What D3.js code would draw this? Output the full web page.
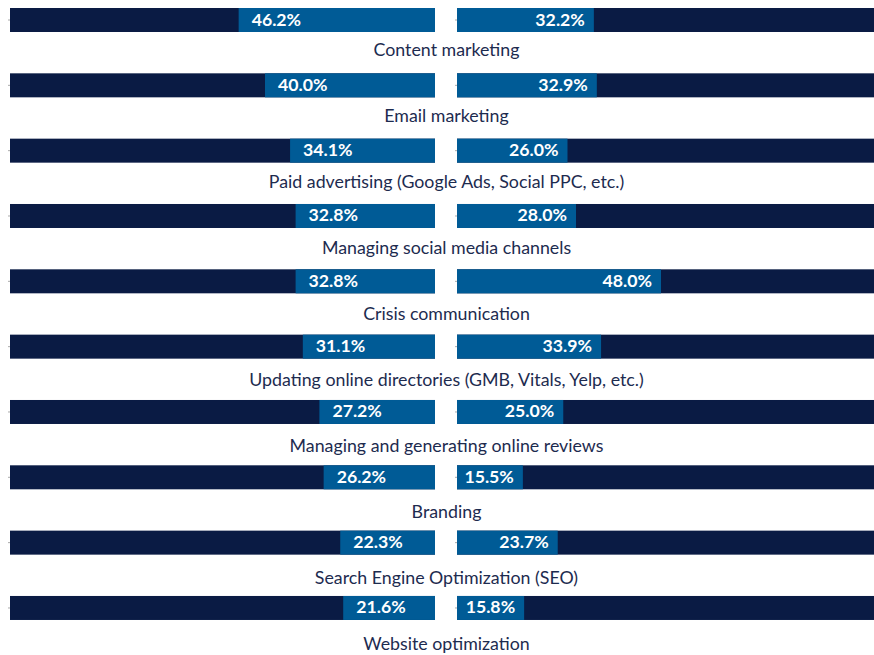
<!DOCTYPE html>
<html>
<head>
<meta charset="utf-8">
<script src="https://cdn.jsdelivr.net/npm/d3@7"></script>
<style>
  body { margin: 0; background: #fff; }
  svg { display: block; font-family: Lato, "Open Sans", sans-serif; }
</style>
</head>
<body>
<div id="chart"></div>
<script>
// categories, top to bottom
var categories = [
    "Content marketing",
    "Email marketing",
    "Paid advertising (Google Ads, Social PPC, etc.)",
    "Managing social media channels",
    "Crisis communication",
    "Updating online directories (GMB, Vitals, Yelp, etc.)",
    "Managing and generating online reviews",
    "Branding",
    "Search Engine Optimization (SEO)",
    "Website optimization"
];
// left and right panel values (percent)
var leftValues = [46.2, 40.0, 34.1, 32.8, 32.8, 31.1, 27.2, 26.2, 22.3, 21.6];
var rightValues = [32.2, 32.9, 26.0, 28.0, 48.0, 33.9, 25.0, 15.5, 23.7, 15.8];

var width = 874, height = 655;
var dark = "#0a1b44", blue = "#005b96", textColor = "#1d2b4f";
var barH = 24;

var svg = d3.select("#chart").append("svg")
    .attr("width", width)
    .attr("height", height);

// one row per category
var y = d3.scaleBand()
    .domain(categories)
    .range([8, 8 + 65.33 * categories.length]);

// left panel grows right to left, right panel left to right
var xL = d3.scaleLinear().domain([0, 100]).range([435, 10]);
var xR = d3.scaleLinear().domain([0, 100]).range([457, 882]);

var rows = categories.map(function (c, i) {
    return { cat: c, left: leftValues[i], right: rightValues[i] };
});

// dark backgrounds (full 100%)
svg.selectAll(".bg-left")
    .data(rows)
    .join("rect")
    .attr("class", "bg-left")
    .attr("x", xL(100))
    .attr("y", d => y(d.cat))
    .attr("width", xL(0) - xL(100))
    .attr("height", barH)
    .attr("fill", dark);

svg.selectAll(".bg-right")
    .data(rows)
    .join("rect")
    .attr("class", "bg-right")
    .attr("x", xR(0))
    .attr("y", d => y(d.cat))
    .attr("width", xR(100) - xR(0))
    .attr("height", barH)
    .attr("fill", dark);

// value bars
svg.selectAll(".bar-left")
    .data(rows)
    .join("rect")
    .attr("class", "bar-left")
    .attr("x", d => xL(d.left))
    .attr("y", d => y(d.cat))
    .attr("width", d => xL(0) - xL(d.left))
    .attr("height", barH)
    .attr("fill", blue);

svg.selectAll(".bar-right")
    .data(rows)
    .join("rect")
    .attr("class", "bar-right")
    .attr("x", xR(0))
    .attr("y", d => y(d.cat))
    .attr("width", d => xR(d.right) - xR(0))
    .attr("height", barH)
    .attr("fill", blue);

// value labels
svg.selectAll(".val-left")
    .data(rows)
    .join("text")
    .attr("class", "val-left")
    .attr("x", d => xL(d.left) + 13)
    .attr("y", d => y(d.cat) + 17.5)
    .attr("fill", "#fff")
    .attr("font-size", 17.7)
    .attr("font-weight", "bold")
    .text(d => d.left.toFixed(1) + "%");

svg.selectAll(".val-right")
    .data(rows)
    .join("text")
    .attr("class", "val-right")
    .attr("x", d => xR(d.right) - 9)
    .attr("y", d => y(d.cat) + 17.5)
    .attr("text-anchor", "end")
    .attr("fill", "#fff")
    .attr("font-size", 17.7)
    .attr("font-weight", "bold")
    .text(d => d.right.toFixed(1) + "%");

// category labels, centred under both panels
svg.selectAll(".cat-label")
    .data(rows)
    .join("text")
    .attr("class", "cat-label")
    .attr("x", 446.5)
    .attr("y", (d, i) => y(d.cat) + 48 + i * 0.7)
    .attr("text-anchor", "middle")
    .attr("fill", textColor)
    .attr("font-size", 17.8)
    .text(d => d.cat);

// tiny ticks at the start of each panel
var tickScale = d3.scaleBand().domain(categories).range(y.range());
[9, 456].forEach(function (x0) {
    var ax = svg.append("g")
        .attr("transform", "translate(" + (x0 + 1) + "," + (barH / 2 - tickScale.bandwidth() / 2) + ")")
        .call(d3.axisLeft(tickScale).tickSize(2).tickFormat(""));
    ax.select(".domain").remove();
    ax.selectAll("line").attr("stroke", "#aaa");
});
</script>
</body>
</html>
